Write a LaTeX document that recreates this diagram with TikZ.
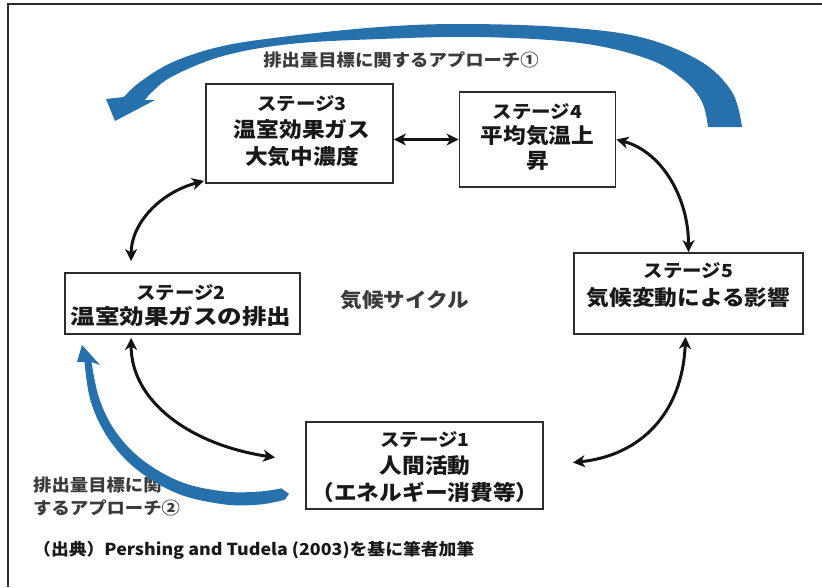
\documentclass[tikz,border=0pt]{standalone}
\usepackage{fontspec}
\newfontfamily\jp[FakeStretch=1.08]{Noto Sans CJK JP}
\newfontfamily\jpw[FakeStretch=1.17]{Noto Sans CJK JP}
\usetikzlibrary{arrows.meta,calc}
\definecolor{arcblue}{RGB}{38,112,172}
\definecolor{frameg}{RGB}{45,45,45}
\definecolor{txtg}{RGB}{25,25,25}
\newcommand{\hdf}{\fontsize{18}{18}\selectfont}
\begin{document}
\begin{tikzpicture}[x=1pt,y=-1pt,
  stagebox/.style={draw=frameg, line width=1.8pt, fill=white, inner sep=0pt},
  stagetxt/.style={align=center, font=\jp\bfseries\fontsize{21}{27}\selectfont, text=txtg, inner sep=0pt},
  lbl/.style={font=\jp\bfseries\fontsize{17}{23}\selectfont, text=txtg!85, inner sep=0pt},
  barrow/.style={line width=3pt, draw=black!92,
    {Stealth[length=12pt,width=12pt,inset=3.5pt]}-{Stealth[length=12pt,width=12pt,inset=3.5pt]}},
  bluefill/.style={fill=arcblue, draw=none}]
\useasboundingbox (0,0) rectangle (822,587);
\fill[white] (0,0) rectangle (822,587);
\draw[frameg, line width=1.5pt] (822,4) -- (8,4) -- (8,587);

% boxes
\node[stagebox, minimum width=187pt, minimum height=99pt] (s3) at (299.5,133.5) {};
\node[stagebox, minimum width=156pt, minimum height=95pt] (s4) at (537.5,139.5) {};
\node[stagebox, minimum width=235pt, minimum height=61pt] (s2) at (182.5,303.5) {};
\node[stagebox, minimum width=229pt, minimum height=81pt] (s5) at (688.5,293.5) {};
\node[stagebox, minimum width=237pt, minimum height=87pt] (s1) at (424.5,465.5) {};

% box texts
\node[stagetxt] (t3) at (302,131) {{\hdf ステージ3}\\温室効果ガス\\大気中濃度};
\node[stagetxt, font=\jp\bfseries\fontsize{21}{25}\selectfont] (t4) at (537.5,137) {{\hdf ステージ4}\\平均気温上\\昇};
\node[stagetxt, font=\jpw\bfseries\fontsize{21}{25}\selectfont] (t2) at (181,306) {{\jp\hdf ステージ2}\\温室効果ガスの排出};
\node[stagetxt, font=\jp\bfseries\fontsize{21}{28}\selectfont] (t5) at (688.5,285) {{\hdf ステージ5}\\気候変動による影響};
\node[stagetxt] (t1) at (425,467) {{\hdf ステージ1}\\人間活動\\（エネルギー消費等）};

% labels
\node[lbl, font=\jp\bfseries\fontsize{20}{20}\selectfont] (cyc) at (405,300) {気候サイクル};
\node[lbl] (ap1) at (401,60) {排出量目標に関するアプローチ①};
\node[lbl, align=left, anchor=west] (ap2) at (33,497) {排出量目標に関\\するアプローチ②};
\node[lbl, anchor=west, font=\jp\bfseries\fontsize{16.5}{16.5}\selectfont, text=txtg] (src) at (33,550) {（出典）Pershing and Tudela (2003)を基に筆者加筆};

% black connectors
\draw[barrow] (s3.east |- s4.west) -- (s4.west);
\draw[barrow] (s4.east) .. controls +(45,12) and +(0,-55) .. (s5.north);
\draw[barrow] ($(s3.south west)+(-1,-3)$) .. controls +(-45,12) and +(0,-37) .. ($(s2.north west)+(67,-11)$);
\draw[barrow] ($(s2.south west)+(67,3)$) .. controls +(0,63) and +(-86,-13) .. ($(s1.west)+(-30,-8)$);
\draw[barrow] ($(s5.south)+(-3,2)$) .. controls +(-3,76) and +(68,-7) .. ($(s1.east)+(29,-3)$);

% blue approach arrow 1 (top)
\fill[bluefill] (115,121) -- (106,99) -- (124,97)
  -- plot[smooth, tension=0.6] coordinates {(124,97) (140,82) (173,62) (223,46) (290,36) (380,27) (460,24) (560,27) (640,37) (700,61) (732,92) (742,127)}
  -- (708,127)
  -- plot[smooth, tension=0.6] coordinates {(708,127) (702,102) (684,80) (648,59) (580,43) (480,37) (380,39) (290,44) (223,56) (173,76) (152,92) (145,100)}
  -- (155,100) -- cycle;
% blue approach arrow 2 (lower left)
\fill[bluefill] (82,345) -- (100,365) -- (91.5,362)
  -- plot[smooth, tension=0.6] coordinates {(91.5,362) (99.2,398.4) (115.8,431.9) (143.3,460.6) (182.2,482.4) (225.6,491.6) (260,491.5) (281.2,488.3)}
  -- (289,494)
  -- plot[smooth, tension=0.6] coordinates {(284.8,499.7) (260,504.5) (224.4,504.4) (177.8,493.6) (136.7,469.4) (108.2,438.2) (90.8,401.6) (84.5,362)}
  -- (77,362) -- cycle;
\end{tikzpicture}
\end{document}
